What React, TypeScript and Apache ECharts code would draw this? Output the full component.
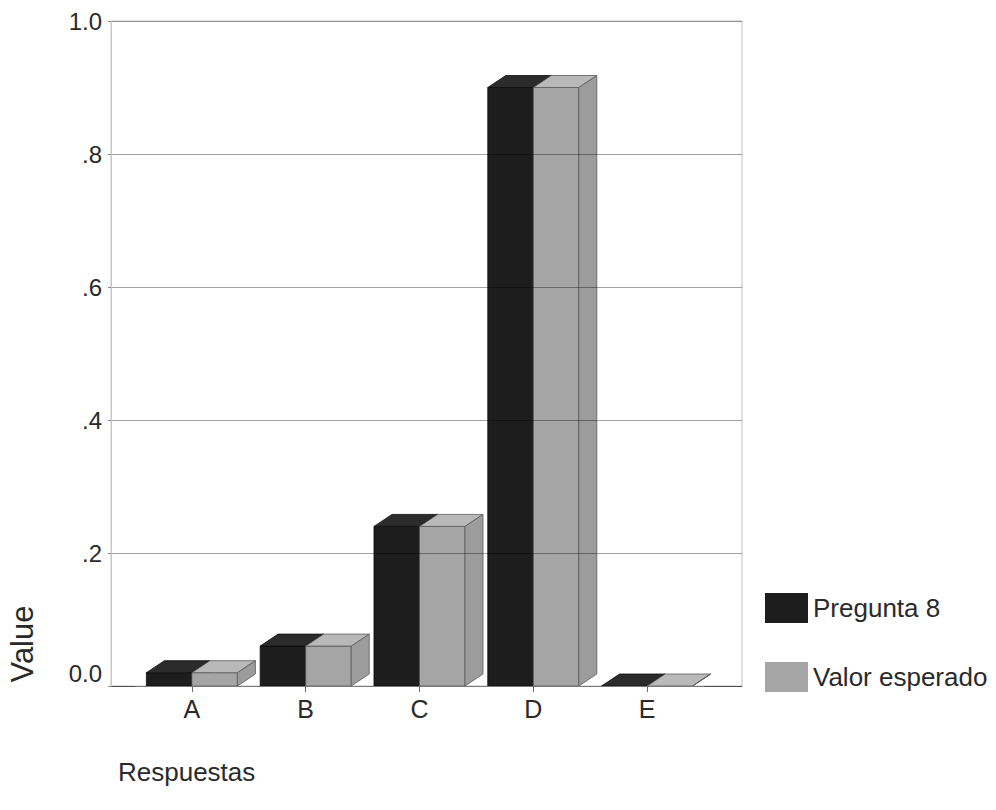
import React, { useEffect, useRef } from "react";
import * as echarts from "echarts";

// Answer categories and the two compared series
const categories = ["A", "B", "C", "D", "E"];
const pregunta8 = [0.02, 0.06, 0.24, 0.9, 0.0];
const valorEsperado = [0.02, 0.06, 0.24, 0.9, 0.0];
const yTickLabels = ["0.0", ".2", ".4", ".6", ".8", "1.0"];
const seriesNames = ["Pregunta 8", "Valor esperado"];

const FONT = "'Liberation Sans', Arial, Helvetica, sans-serif";
const TEXT = "#2a2a2a";

// pixel offset of the back face of each 3D block
const DEPTH_X = 18;
const DEPTH_Y = 12;
const BAR_FRACTION = 0.4;

type Palette = { front: string; top: string; side: string; stroke: string };

const darkPalette: Palette = { front: "#1d1d1d", top: "#2b2b2b", side: "#141414", stroke: "#0d0d0d" };
const greyPalette: Palette = { front: "#a5a5a5", top: "#b9b9b9", side: "#9c9c9c", stroke: "#5a5a5a" };

// side = -1 draws the block left of the category centre, +1 right of it
function blockRenderer(side: number, pal: Palette) {
  return (_params: any, api: any) => {
    const cat = api.value(0);
    const val = api.value(1);
    const topPt = api.coord([cat, val]);
    const basePt = api.coord([cat, 0]);
    const bw = api.size([1, 0])[0] * BAR_FRACTION;
    const x0 = side < 0 ? topPt[0] - bw : topPt[0];
    const x1 = x0 + bw;
    const yT = topPt[1];
    const yB = basePt[1];
    const lw = 0.8;
    return {
      type: "group",
      children: [
        {
          type: "polygon",
          shape: { points: [[x0, yB], [x1, yB], [x1, yT], [x0, yT]] },
          style: { fill: pal.front, stroke: pal.stroke, lineWidth: lw },
        },
        {
          type: "polygon",
          shape: {
            points: [
              [x0, yT],
              [x1, yT],
              [x1 + DEPTH_X, yT - DEPTH_Y],
              [x0 + DEPTH_X, yT - DEPTH_Y],
            ],
          },
          style: { fill: pal.top, stroke: pal.stroke, lineWidth: lw },
        },
        {
          type: "polygon",
          shape: {
            points: [
              [x1, yB],
              [x1 + DEPTH_X, yB - DEPTH_Y],
              [x1 + DEPTH_X, yT - DEPTH_Y],
              [x1, yT],
            ],
          },
          style: { fill: pal.side, stroke: pal.stroke, lineWidth: lw },
        },
      ],
    };
  };
}

export default function App() {
  const ref = useRef<HTMLDivElement>(null);

  useEffect(() => {
    if (!ref.current) return;
    const chart = echarts.init(ref.current, undefined, { renderer: "svg" });

    const option: any = {
      animation: false,
      backgroundColor: "#ffffff",
      grid: [
        // grid 0: the bars and category axis
        { left: 135, right: 292, top: 21, bottom: 124 },
        // grid 1: the framed plot area with value gridlines
        {
          left: 111,
          right: 254,
          top: 21,
          bottom: 124,
          show: true,
          borderColor: "#c4c4c4",
          borderWidth: 1,
          backgroundColor: "transparent",
        },
      ],
      xAxis: [
        {
          type: "category",
          gridIndex: 0,
          data: categories,
          axisLine: { show: true, lineStyle: { color: "#7a7a7a", width: 1 } },
          axisTick: { show: true, alignWithLabel: true, length: 6, lineStyle: { color: "#6a6a6a" } },
          axisLabel: { fontSize: 25, fontFamily: FONT, color: TEXT, margin: 10 },
          splitLine: { show: false },
          z: 6,
        },
        {
          type: "value",
          gridIndex: 1,
          min: 0,
          max: 1,
          axisLine: { show: true, lineStyle: { color: "#7a7a7a", width: 1 } },
          axisTick: { show: false },
          axisLabel: { show: false },
          splitLine: { show: false },
        },
      ],
      yAxis: [
        { type: "value", gridIndex: 0, min: 0, max: 1, show: false },
        {
          type: "value",
          gridIndex: 1,
          min: 0,
          max: 1,
          interval: 0.2,
          z: 5,
          axisLine: { show: true, lineStyle: { color: "#c8c8c8", width: 1 } },
          axisTick: { show: true, length: 3, lineStyle: { color: "#8a8a8a" } },
          axisLabel: {
            fontSize: 24,
            fontFamily: FONT,
            color: TEXT,
            margin: 9,
            formatter: (_v: number, i: number) =>
              i === 0 ? `{z|${yTickLabels[i]}}` : yTickLabels[i],
            rich: {
              z: { fontSize: 24, fontFamily: FONT, color: TEXT, padding: [0, 0, 26, 0] },
            },
          },
          splitLine: { show: true, lineStyle: { color: "rgba(0,0,0,0.36)", width: 1 } },
        },
      ],
      legend: {
        orient: "vertical",
        left: 760,
        top: 588,
        itemWidth: 43,
        itemHeight: 30,
        itemGap: 39,
        icon: "rect",
        selectedMode: false,
        textStyle: { fontSize: 26, fontFamily: FONT, color: TEXT },
        data: seriesNames,
      },
      series: [
        {
          name: seriesNames[0],
          type: "custom",
          xAxisIndex: 0,
          yAxisIndex: 0,
          clip: false,
          z: 2,
          itemStyle: { color: darkPalette.front },
          encode: { x: 0, y: 1 },
          renderItem: blockRenderer(-1, darkPalette),
          data: categories.map((_c, i) => [i, pregunta8[i]]),
        },
        {
          name: seriesNames[1],
          type: "custom",
          xAxisIndex: 0,
          yAxisIndex: 0,
          clip: false,
          z: 3,
          itemStyle: { color: greyPalette.front },
          encode: { x: 0, y: 1 },
          renderItem: blockRenderer(1, greyPalette),
          data: categories.map((_c, i) => [i, valorEsperado[i]]),
        },
      ],
      graphic: [
        {
          type: "text",
          x: 22,
          y: 644,
          rotation: Math.PI / 2,
          style: {
            text: "Value",
            fontSize: 31,
            fontFamily: FONT,
            fill: TEXT,
            align: "center",
            verticalAlign: "middle",
          },
        },
        {
          type: "text",
          x: 118,
          y: 772,
          style: {
            text: "Respuestas",
            fontSize: 26,
            fontFamily: FONT,
            fill: TEXT,
            align: "left",
            verticalAlign: "middle",
          },
        },
      ],
    };

    chart.setOption(option);
    return () => chart.dispose();
  }, []);

  return (
    <div
      ref={ref}
      style={{ position: "fixed", left: 0, top: 0, width: 996, height: 810, background: "#fff" }}
    />
  );
}
